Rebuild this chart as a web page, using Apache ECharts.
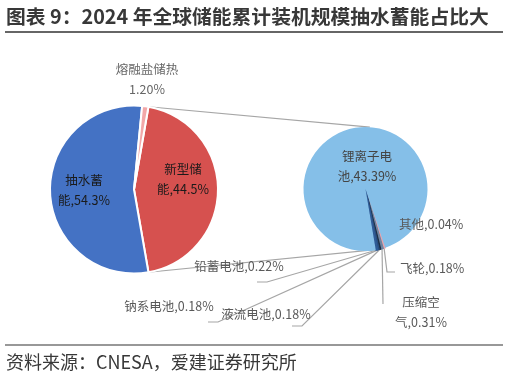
<!DOCTYPE html>
<html>
<head>
<meta charset="utf-8">
<script src="https://cdn.jsdelivr.net/npm/echarts@6/dist/echarts.min.js"></script>
<style>
html, body { margin: 0; padding: 0; background: #fff; }
#chart { width: 508px; height: 376px; }
</style>
</head>
<body>
<div id="chart"></div>
<script>
// 左侧饼图：2024 年全球储能累计装机结构（%）
var mainNames = ["新型储能", "抽水蓄能", "熔融盐储热"];
var mainValues = [44.5, 54.3, 1.2];
// 右侧子饼图：新型储能细分（%）
var subNames = ["其他", "飞轮", "压缩空气", "液流电池", "钠系电池", "铅蓄电池", "锂离子电池"];
var subValues = [0.04, 0.18, 0.31, 0.18, 0.18, 0.22, 43.39];

var FONT = '"Noto Sans CJK SC", "Noto Sans", sans-serif';
var mainColors = ["#D6514F", "#4472C4", "#F2A7A8"];
var subColors = ["#F0A3AB", "#F0A3AB", "#6E84A0", "#1E2F45", "#2A4F82", "#2F5C97", "#85BFE8"];

// 标签排版（小数位、分隔符、折行位置、位置）
var mainFmt = [
  { dec: 1, sep: ",", wrap: 3, pos: [183, 179], color: "#1a1a1a" },
  { dec: 1, sep: ",", wrap: 3, pos: [84, 190], color: "#1a1a1a" },
  { dec: 2, sep: "\n", wrap: 0, pos: [147, 79], color: "#666" }
];
var subFmt = [
  { wrap: 0, x: 399, y: 224, align: "left" },
  { wrap: 0, x: 400, y: 268, align: "left", line: [[387, 272], [395, 272]] },
  { wrap: 3, x: 421, y: 312, align: "center", line: [[383, 304]] },
  { wrap: 0, x: 266, y: 314, align: "center", line: [[302, 326], [292, 326]] },
  { wrap: 0, x: 169, y: 306, align: "center", line: [[218, 322], [208, 322]] },
  { wrap: 0, x: 239, y: 266, align: "center", line: [[267, 282], [257, 282]] },
  { wrap: 4, x: 367, y: 166, align: "center" }
];

function labelText(name, value, dec, sep, wrap) {
  var s = name + sep + value.toFixed(dec) + "%";
  return wrap > 0 ? s.slice(0, wrap) + "\n" + s.slice(wrap) : s;
}

var L = { cx: 134, cy: 189.5, r: 84 };
var R = { cx: 365.5, cy: 189, r: 62 };
var mainTotal = mainValues.reduce(function (a, b) { return a + b; }, 0);
var subTotal = subValues.reduce(function (a, b) { return a + b; }, 0);
// 新型储能扇区居中于 3 点钟方向
var mainStart = mainValues[0] / mainTotal * 180;
// 子饼图中小扇区位于底部偏右
var smallSum = subTotal - subValues[subValues.length - 1];
var smallDeg = smallSum / subTotal * 360;
var subStartCW = 161.5;
var subStart = 90 - subStartCW;

function pt(c, degCW) {
  var a = degCW * Math.PI / 180;
  return [c.cx + c.r * Math.sin(a), c.cy - c.r * Math.cos(a)];
}
var redStartCW = 90 - mainStart;
var redEndCW = redStartCW + mainValues[0] / mainTotal * 360;
var p1 = pt(L, redStartCW), p2 = pt(R, 4);
var p3 = pt(L, redEndCW), p4 = pt(R, subStartCW + smallDeg / 2);

var mainData = mainNames.map(function (n, i) {
  var f = mainFmt[i];
  return {
    name: n, value: mainValues[i],
    itemStyle: { color: mainColors[i] },
    label: { position: i < 2 ? "inside" : "outside", color: f.color,
      formatter: labelText(n, mainValues[i], f.dec, f.sep, f.wrap) },
    labelLine: { show: false }
  };
});
var subData = subNames.map(function (n, i) {
  var f = subFmt[i];
  var big = i === subNames.length - 1;
  return {
    name: n, value: subValues[i],
    itemStyle: { color: subColors[i], borderColor: subColors[i], borderWidth: big ? 0 : 1.2 },
    label: { position: big ? "inside" : "outside", color: big ? "#444" : "#595959",
      formatter: labelText(n, subValues[i], 2, ",", f.wrap) },
    labelLine: { show: !!f.line }
  };
});

var chart = echarts.init(document.getElementById("chart"));
var option = {
  animation: false,
  textStyle: { fontFamily: FONT },
  graphic: [
    { type: "text", x: 6, y: 16, style: { text: "图表 9：2024 年全球储能累计装机规模抽水蓄能占比大",
      fill: "#383838", font: "bold 19.8px " + FONT, verticalAlign: "middle" } },
    { type: "line", shape: { x1: 5, y1: 32, x2: 503, y2: 32 }, style: { stroke: "#333", lineWidth: 1.5 } },
    { type: "line", shape: { x1: 5, y1: 345, x2: 503, y2: 345 }, style: { stroke: "#333", lineWidth: 1.2 } },
    { type: "text", x: 6, y: 362, style: { text: "资料来源：CNESA，爱建证券研究所",
      fill: "#383838", font: "18px " + FONT, verticalAlign: "middle" } },
    { type: "line", z: 0, shape: { x1: p1[0], y1: p1[1], x2: p2[0], y2: p2[1] }, style: { stroke: "#A6A6A6", lineWidth: 1.2 } },
    { type: "line", z: 0, shape: { x1: p3[0], y1: p3[1], x2: p4[0], y2: p4[1] }, style: { stroke: "#A6A6A6", lineWidth: 1.2 } }
  ],
  series: [
    {
      type: "pie",
      center: [L.cx, L.cy],
      radius: L.r,
      startAngle: mainStart,
      avoidLabelOverlap: false,
      itemStyle: { borderColor: "#fff", borderWidth: 2 },
      label: { show: true, fontSize: 12.5, lineHeight: 20, fontFamily: FONT },
      labelLayout: function (p) {
        var f = mainFmt[p.dataIndex];
        return { x: f.pos[0], y: f.pos[1], align: "center", verticalAlign: "middle" };
      },
      data: mainData
    },
    {
      type: "pie",
      center: [R.cx, R.cy],
      radius: R.r,
      startAngle: subStart,
      avoidLabelOverlap: false,
      label: { show: true, fontSize: 12.5, lineHeight: 20, fontFamily: FONT },
      labelLine: { lineStyle: { color: "#A6A6A6", width: 1.2 } },
      labelLayout: function (p) {
        var f = subFmt[p.dataIndex];
        var out = { x: f.x, y: f.y, align: f.align, verticalAlign: "middle" };
        if (f.line && p.labelLinePoints) {
          out.labelLinePoints = [p.labelLinePoints[0]].concat(f.line);
        }
        return out;
      },
      data: subData
    }
  ]
};
chart.setOption(option);
</script>
</body>
</html>
